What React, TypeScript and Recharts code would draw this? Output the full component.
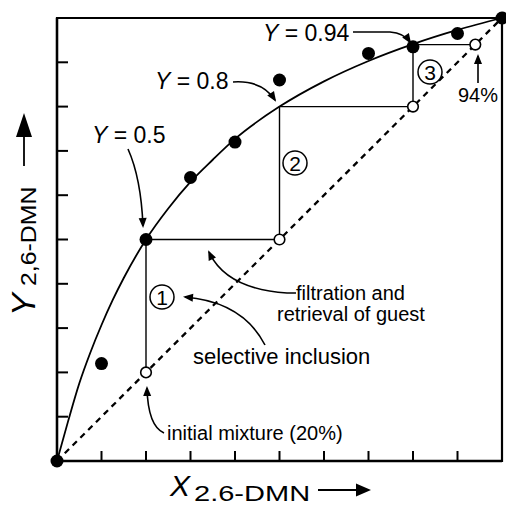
import { ComposedChart, Line, Scatter, XAxis, YAxis, ReferenceArea } from "recharts"

// axis ticks (every 0.1, no labels in the figure)
const axisTicks = [0, 0.1, 0.2, 0.3, 0.4, 0.5, 0.6, 0.7, 0.8, 0.9, 1]

// equilibrium curve
const curveX = [0, 0.025, 0.05, 0.075, 0.1, 0.125, 0.15, 0.2, 0.25, 0.3, 0.35, 0.4, 0.5, 0.6, 0.7, 0.8, 0.9, 1]
const curveY = [0, 0.09, 0.175, 0.245, 0.307, 0.363, 0.413, 0.5, 0.57, 0.63, 0.68, 0.727, 0.8, 0.857, 0.903, 0.941, 0.973, 1]

// measured points (filled)
const sampleX = [0, 0.1, 0.2, 0.3, 0.4, 0.5, 0.7, 0.8, 0.9, 1]
const sampleY = [0, 0.22, 0.5, 0.64, 0.72, 0.86, 0.92, 0.935, 0.965, 1]

// feed compositions (open)
const feedX = [0.2, 0.5, 0.8, 0.94]
const feedY = [0.2, 0.5, 0.8, 0.94]

// enrichment staircase
const stepX = [0.2, 0.2, 0.5, 0.5, 0.8, 0.8, 0.94]
const stepY = [0.2, 0.5, 0.5, 0.8, 0.8, 0.94, 0.94]

// x = y diagonal
const diagX = [0, 1]
const diagY = [0, 1]

const zip = (xs: number[], ys: number[]) => xs.map((x, i) => ({ x, y: ys[i] }))

const curveData = zip(curveX, curveY)
const sampleData = zip(sampleX, sampleY)
const feedData = zip(feedX, feedY)
const stepData = zip(stepX, stepY)
const diagData = zip(diagX, diagY)

const FONT = "'Liberation Sans', Arial, Helvetica, sans-serif"

const NoTick = () => <g />
const FilledDot = (props: any) => <circle cx={props.cx} cy={props.cy} r={6.5} fill="#000" />
const OpenDot = (props: any) => (
  <circle cx={props.cx} cy={props.cy} r={5.3} fill="#fff" stroke="#000" strokeWidth={1.6} />
)

function CircledNum({ x, y, n }: { x: number; y: number; n: string }) {
  return (
    <g>
      <circle cx={x} cy={y} r={12} fill="#fff" stroke="#000" strokeWidth={1.5} />
      <text x={x} y={y + 7.5} textAnchor="middle" fontSize={21} fontFamily={FONT}>
        {n}
      </text>
    </g>
  )
}

function Annotations() {
  const arrow = { fill: "none", stroke: "#000", strokeWidth: 1.6, markerEnd: "url(#ah)" }
  return (
    <svg
      width={506}
      height={513}
      style={{ position: "absolute", left: 0, top: 0, pointerEvents: "none" }}
      fontFamily={FONT}
    >
      <defs>
        <marker
          id="ah"
          viewBox="0 0 10 10"
          refX="8"
          refY="5"
          markerWidth="11"
          markerHeight="10"
          markerUnits="userSpaceOnUse"
          orient="auto"
        >
          <path d="M0,1 L10,5 L0,9 z" fill="#000" />
        </marker>
      </defs>

      {/* Y labels */}
      <text x={92} y={143} fontSize={23}>
        <tspan fontStyle="italic">Y</tspan> = 0.5
      </text>
      <path d="M128,149 Q141,178 143,226" {...arrow} />

      <text x={155} y={89} fontSize={23}>
        <tspan fontStyle="italic">Y</tspan> = 0.8
      </text>
      <path d="M233,82 Q262,80 275,100" {...arrow} />

      <text x={263} y={41} fontSize={23}>
        <tspan fontStyle="italic">Y</tspan> = 0.94
      </text>
      <path d="M353,32 L390,32 Q404,33 410,42" {...arrow} />

      <text x={478} y={102} fontSize={20} textAnchor="middle">
        94%
      </text>
      <path d="M478,83 L478,56" {...arrow} />

      {/* process notes */}
      <text x={296} y={300} fontSize={20}>
        filtration and
      </text>
      <text x={277} y={321} fontSize={20}>
        retrieval of guest
      </text>
      <path d="M296,293 L287,293 Q226,289 209,252" {...arrow} />

      <text x={193} y={364} fontSize={22}>
        selective inclusion
      </text>
      <path d="M265,345 Q243,302 185,297" {...arrow} />

      <text x={167} y={440} fontSize={20}>
        initial mixture (20%)
      </text>
      <path d="M164,433 Q148,426 147,388" {...arrow} />

      <CircledNum x={162} y={297} n="1" />
      <CircledNum x={295} y={163} n="2" />
      <CircledNum x={430} y={72} n="3" />

      {/* x axis title */}
      <text x={170} y={496} fontSize={30} fontStyle="italic">
        X
      </text>
      <g transform="translate(194,501) scale(1.32,1)">
        <text x={0} y={0} fontSize={22}>
          2.6-DMN
        </text>
      </g>
      <line x1={318} y1={490} x2={358} y2={490} stroke="#000" strokeWidth={1.8} />
      <polygon points="371,490 356,483.5 356,496.5" fill="#000" />

      {/* y axis title */}
      <g transform="translate(35,316) rotate(-90)">
        <text x={0} y={0} fontSize={34} fontStyle="italic">
          Y
        </text>
        <g transform="translate(30,1) scale(1.13,1)">
          <text x={0} y={0} fontSize={22}>
            2,6-DMN
          </text>
        </g>
      </g>
      <line x1={24} y1={166} x2={24} y2={134} stroke="#000" strokeWidth={1.8} />
      <polygon points="24,113 16,137 32,137" fill="#000" />
    </svg>
  )
}

export default function App() {
  return (
    <div style={{ position: "absolute", left: 0, top: 0, width: 506, height: 513, background: "#fff" }}>
      <ComposedChart width={506} height={513} margin={{ top: 18, right: 4, bottom: 52, left: 57 }}>
        <XAxis
          type="number"
          dataKey="x"
          domain={[0, 1]}
          ticks={axisTicks}
          tick={NoTick}
          mirror
          tickSize={10}
          axisLine={{ stroke: "#000", strokeWidth: 2.4 }}
          tickLine={{ stroke: "#000", strokeWidth: 2 }}
        />
        <YAxis
          type="number"
          dataKey="y"
          domain={[0, 1]}
          ticks={axisTicks}
          tick={NoTick}
          mirror
          tickSize={11}
          axisLine={{ stroke: "#000", strokeWidth: 2.4 }}
          tickLine={{ stroke: "#000", strokeWidth: 2 }}
        />
        <ReferenceArea x1={0} x2={1} y1={0} y2={1} fill="none" stroke="#000" strokeWidth={2.2} />
        <Line
          data={diagData}
          dataKey="y"
          type="linear"
          stroke="#000"
          strokeWidth={2.3}
          strokeDasharray="6 5"
          dot={false}
          isAnimationActive={false}
        />
        <Line
          data={curveData}
          dataKey="y"
          type="monotone"
          stroke="#000"
          strokeWidth={1.8}
          dot={false}
          isAnimationActive={false}
        />
        <Line
          data={stepData}
          dataKey="y"
          type="linear"
          stroke="#000"
          strokeWidth={1.4}
          dot={false}
          isAnimationActive={false}
        />
        <Scatter data={sampleData} shape={FilledDot} isAnimationActive={false} />
        <Scatter data={feedData} shape={OpenDot} isAnimationActive={false} />
      </ComposedChart>
      <Annotations />
    </div>
  )
}
